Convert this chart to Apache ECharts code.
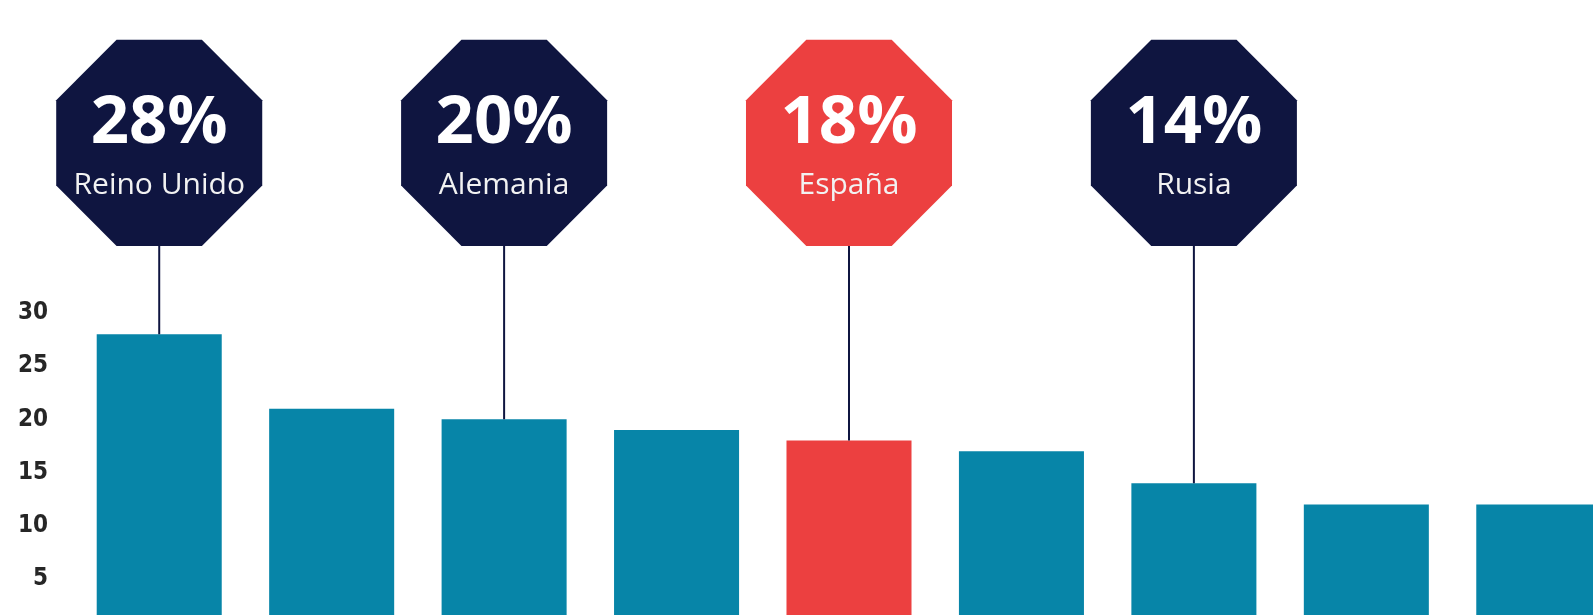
<!DOCTYPE html>
<html>
<head>
<meta charset="utf-8">
<script src="https://cdn.jsdelivr.net/npm/echarts@6/dist/echarts.min.js"></script>
<style>
  html, body { margin: 0; padding: 0; background: #fff; }
  #chart { width: 1593px; height: 615px; }
</style>
</head>
<body>
<div id="chart"></div>
<script>
// data
const categories = ['Reino Unido', 'País 2', 'Alemania', 'País 4', 'España', 'País 6', 'Rusia', 'País 8', 'País 9'];
const values = [28, 21, 20, 19, 18, 17, 14, 12, 12];
const yTicks = [5, 10, 15, 20, 25, 30];

// the four highlighted countries (badges)
const badgeIndex = [0, 2, 4, 6];
const badgePct = ['28%', '20%', '18%', '14%'];
const badgeName = ['Reino Unido', 'Alemania', 'España', 'Rusia'];
const badgeLevel = 46; // value level where badge centres sit

const TEAL = '#0785a8';
const RED = '#ec4040';
const NAVY = '#0f1540';
const HIGHLIGHT = 'España';

const chart = echarts.init(document.getElementById('chart'));

// regular octagon, flat top, around (cx, cy)
const octagon = (cx, cy, r) => {
  const pts = [];
  for (let k = 0; k < 8; k++) {
    const a = (Math.PI / 8) + k * Math.PI / 4;
    pts.push([cx + r * Math.cos(a), cy + r * Math.sin(a)]);
  }
  return pts;
};

const badgeData = badgeIndex.map((idx, i) => [idx, values[idx], badgePct[i], badgeName[i]]);

const option = {
  animation: false,
  grid: { left: 73, top: 313, width: 1552, height: 319, outerBoundsMode: 'none', containLabel: false },
  xAxis: {
    type: 'category',
    data: categories,
    axisLine: { show: false },
    axisTick: { show: false },
    axisLabel: { show: false }
  },
  yAxis: {
    type: 'value',
    min: 0,
    max: 30,
    interval: 5,
    axisLine: { show: false },
    axisTick: { show: false },
    splitLine: { show: false },
    axisLabel: {
      margin: 25,
      color: '#262626',
      fontFamily: '"DejaVu Sans Condensed", "Liberation Sans", sans-serif',
      fontWeight: 'bold',
      fontSize: 24,
      padding: [5, 0, 0, 0],
      formatter: v => (yTicks.includes(v) ? String(v) : '')
    }
  },
  series: [
    {
      type: 'bar',
      barCategoryGap: '27.5%',
      data: values.map((v, i) => ({
        value: v,
        itemStyle: { color: categories[i] === HIGHLIGHT ? RED : TEAL }
      }))
    },
    {
      type: 'custom',
      clip: false,
      z: 5,
      data: badgeData,
      renderItem: (params, api) => {
        const cat = api.value(0);
        const base = api.coord([cat, api.value(1)]);
        const top = api.coord([cat, badgeLevel]);
        const name = badgeName[params.dataIndex];
        const fill = name === HIGHLIGHT ? RED : NAVY;
        return {
          type: 'group',
          children: [
            {
              type: 'line',
              shape: { x1: base[0], y1: base[1], x2: top[0], y2: top[1] },
              style: { stroke: NAVY, lineWidth: 2 }
            },
            {
              type: 'polygon',
              shape: { points: octagon(top[0], top[1], 111.5) },
              style: { fill: fill }
            },
            {
              type: 'text',
              style: {
                text: badgePct[params.dataIndex],
                x: top[0], y: top[1] - 19,
                align: 'center', verticalAlign: 'middle',
                font: 'bold 67px "Open Sans"',
                fill: '#ffffff'
              }
            },
            {
              type: 'text',
              style: {
                text: name,
                x: top[0], y: top[1] + 43,
                align: 'center', verticalAlign: 'middle',
                font: '30px "Open Sans"',
                fill: '#f2f2f2'
              }
            }
          ]
        };
      }
    }
  ]
};

chart.setOption(option);
</script>
</body>
</html>
